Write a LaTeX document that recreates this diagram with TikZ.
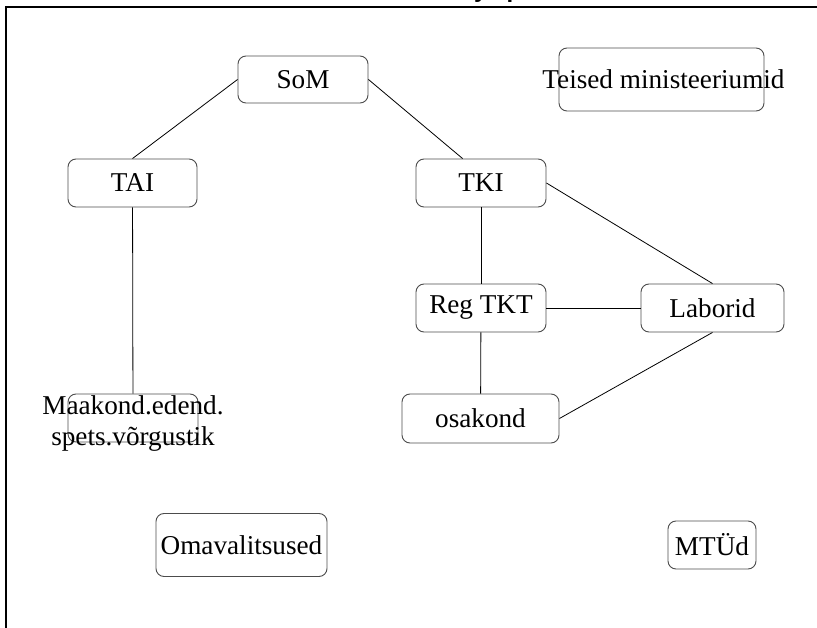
\documentclass[tikz,border=0pt]{standalone}
\usepackage{fontspec}
\setmainfont{Liberation Serif}
\setsansfont{Liberation Sans}
\usetikzlibrary{shapes,positioning,calc}

\begin{document}
\begin{tikzpicture}[x=1pt, y=-1pt,
    box/.style={rectangle, draw=black!70, line width=0.9pt, rounded corners=8pt, inner sep=0pt, minimum height=48pt},
    link/.style={draw, line width=0.8pt},
    font=\fontsize{27.2}{31}\selectfont]
    \clip (0,0) rectangle (817,628);
    % frame and cut title
    \draw[line width=2pt] (900,7) -- (6,7) -- (6,700);
    \node[font=\sffamily\bfseries\fontsize{24}{28}\selectfont, anchor=base west, inner sep=0pt] (title) at (474,-2.5) {y\hspace{19pt}p};

    \node[box, minimum width=130pt, minimum height=47pt] (som) at (303,79.5) {SoM};
    \node[box, minimum width=205pt, minimum height=63pt,
          label={[anchor=center, inner sep=0pt, xshift=2pt]center:Teised ministeeriumid}] (teised) at (661.5,79.5) {};
    \node[box, minimum width=129pt] (tai) at (132.5,183) {TAI};
    \node[box, minimum width=130pt] (tki) at (481,183) {TKI};
    \node[box, minimum width=130pt] (regtkt) at (481,308) {Reg TKT};
    \node[box, minimum width=143pt] (laborid) at (712.5,308) {Laborid};
    \node[box, minimum width=157pt, minimum height=49pt] (osakond) at (480.5,418.5) {osakond};
    \node[box, minimum width=130pt,
          label={[anchor=center, align=center, inner sep=0pt, yshift=-5pt]center:Maakond.edend.\\spets.võrgustik}] (maakond) at (133,418) {};
    \node[box, minimum width=171pt, minimum height=63pt] (omavalitsused) at (241.5,545) {Omavalitsused};
    \node[box, minimum width=88pt] (mtud) at (712,545) {MTÜd};

    \draw[link] (som.west) -- (tai.north);
    \draw[link] (som.east) -- (tki.127);
    \draw[link] (tai) -- (maakond);
    \draw[link] (tki) -- (regtkt);
    \draw[link] (tki.east) -- (laborid.north);
    \draw[link] (regtkt) -- (laborid);
    \draw[link] (regtkt) -- (osakond);
    \draw[link] (osakond.east) -- (laborid.south);
\end{tikzpicture}
\end{document}
